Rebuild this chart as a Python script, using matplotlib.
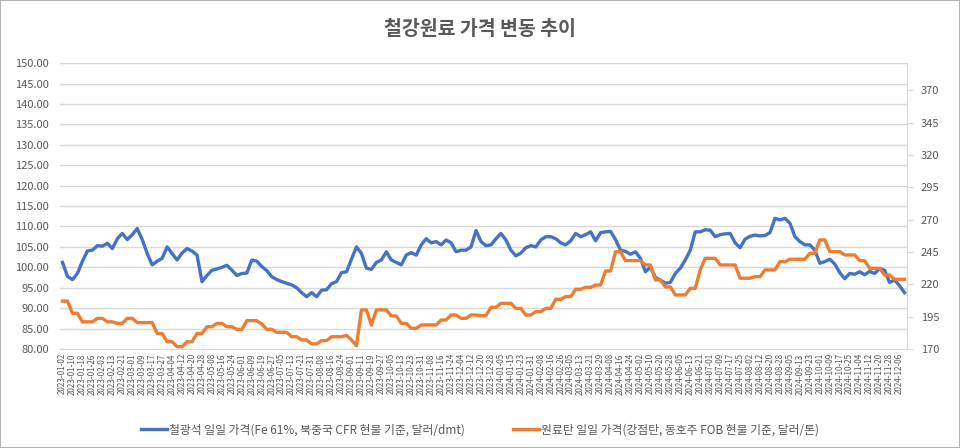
import matplotlib
matplotlib.use("Agg")
import matplotlib.pyplot as plt
import pandas as pd

plt.rcParams['font.family'] = ['Noto Sans CJK KR', 'DejaVu Sans']

title = "철강원료 가격 변동 추이"
iron_label = "철광석 일일 가격(Fe 61%, 북중국 CFR 현물 기준, 달러/dmt)"
coal_label = "원료탄 일일 가격(강점탄, 동호주 FOB 현물 기준, 달러/톤)"

# iron ore, $/dmt (left axis)
iron = [101.2, 97.8, 97.0, 98.5, 101.5, 104.0, 104.2, 105.3, 105.2, 105.9,
        104.6, 107.0, 108.3, 106.8, 108.0, 109.5, 106.8, 103.4, 100.6, 101.5,
        102.2, 105.0, 103.4, 101.8, 103.5, 104.6, 104.0, 103.0, 96.5, 98.0,
        99.3, 99.6, 100.0, 100.5, 99.3, 98.0, 98.5, 98.6, 101.8, 101.5,
        100.2, 99.2, 97.7, 97.0, 96.5, 96.1, 95.7, 95.0, 93.8, 92.8,
        93.8, 92.8, 94.4, 94.5, 96.0, 96.5, 98.7, 98.9, 102.0, 105.0,
        103.4, 99.8, 99.5, 101.2, 101.8, 103.8, 101.8, 101.2, 100.6, 103.0,
        103.6, 103.0, 105.5, 107.0, 106.0, 106.3, 105.5, 106.7, 106.0, 103.8,
        104.2, 104.2, 105.0, 109.0, 106.3, 105.3, 105.5, 107.0, 108.3, 106.7,
        104.2, 102.8, 103.5, 104.8, 105.3, 105.0, 106.7, 107.5, 107.5, 107.0,
        106.0, 105.5, 106.5, 108.3, 107.5, 108.0, 108.7, 106.5, 108.5, 108.7,
        108.8, 106.8, 104.2, 103.9, 103.2, 103.8, 102.2, 98.9, 100.1, 97.5,
        96.9, 96.1, 96.3, 98.5, 99.8, 101.8, 104.2, 108.7, 108.7, 109.2,
        109.1, 107.5, 108.0, 108.2, 108.3, 106.0, 104.8, 106.9, 107.6, 107.9,
        107.7, 107.8, 108.5, 112.0, 111.6, 112.0, 110.8, 107.5, 106.3, 105.5,
        105.5, 104.2, 101.0, 101.4, 102.0, 100.8, 98.7, 97.2, 98.5, 98.3,
        98.9, 98.2, 99.0, 98.5, 99.7, 99.3, 96.3, 96.9, 95.5, 93.8]

# coking coal, $/t (right axis)
coal = [207, 207, 197.6, 197.6, 191, 191, 191, 193.7, 193.7, 191,
        191, 189.8, 189.8, 193.7, 193.7, 190.4, 190.4, 190.4, 190.4, 182,
        182, 175.6, 175.6, 171.8, 171.8, 175.6, 175.6, 182, 182, 187.2,
        187.2, 189.8, 189.8, 187.2, 187.2, 185.2, 185.2, 191.9, 191.9, 191.9,
        189.3, 185.2, 185.2, 182.9, 182.9, 182.9, 179.5, 179.5, 177, 177,
        173.9, 173.9, 176.5, 176.5, 179.5, 179.5, 179.5, 180.5, 177, 172.5,
        200.2, 200.2, 188.5, 200.2, 200.2, 200.2, 195.5, 195.5, 189.8, 189.8,
        186, 186, 188.6, 188.6, 188.6, 188.6, 192.4, 192.4, 196.3, 196.3,
        193.7, 193.7, 196.3, 196.3, 195.8, 195.8, 202.2, 202.2, 205.3, 205.3,
        205.3, 201.4, 201.4, 196.3, 196.3, 198.9, 198.9, 201.4, 201.4, 208.4,
        208.4, 210.5, 210.5, 216.2, 216.2, 217.7, 217.7, 219.5, 219.5, 230.3,
        230.3, 245.2, 245.2, 238.3, 238.3, 238.3, 238.3, 235, 235, 223.4,
        223.4, 218, 218, 211.8, 211.8, 211.8, 216.9, 216.9, 231.1, 240.1,
        240.1, 240.1, 235, 235, 235, 235, 224.7, 224.7, 224.7, 225.9,
        225.9, 231.1, 231.1, 231.1, 237.5, 237.5, 239.4, 239.4, 239.4, 239.4,
        244, 244, 254.3, 254.3, 245.3, 245.3, 245.3, 242.7, 242.7, 242.7,
        238.3, 238.3, 232.4, 232.4, 232.4, 227.2, 227.2, 223.9, 223.9, 223.9]

dates = pd.bdate_range("2023-01-02", periods=len(iron), freq="3B")
date_labels = [d.strftime("%Y-%m-%d") for d in dates]

left_ticks = [80 + 5 * i for i in range(15)]
right_ticks = [170 + 25 * i for i in range(9)]

blue = "#4472C4"
orange = "#ED7D31"
txt = "#595959"
grid = "#D9D9D9"

fig = plt.figure(figsize=(9.6, 4.48), dpi=100)
fig.patches.append(plt.Rectangle((0.0005, 0.001), 0.999, 0.998, transform=fig.transFigure,
                                 fill=False, edgecolor="#A6A6A6", lw=1.2))
ax = fig.add_axes([0.0625, 0.221, 0.8823, 0.638])
ax2 = ax.twinx()

x = list(range(len(iron)))
l1, = ax.plot(x, iron, color=blue, lw=2.4, solid_joinstyle="round")
l2, = ax2.plot(x, coal, color=orange, lw=2.4, solid_joinstyle="round")

ax.set_xlim(-0.5, len(iron) - 0.5)
ax.set_ylim(80, 150)
ax.set_yticks(left_ticks)
ax.set_yticklabels([f"{v:.2f}" for v in left_ticks])
ax.yaxis.grid(True, color=grid, lw=1)
ax.set_axisbelow(True)
ax.set_xticks(x[::2])
ax.set_xticklabels(date_labels[::2], rotation=90, fontsize=5.8, color=txt)
ax.tick_params(axis="x", length=0, pad=3)
ax.tick_params(axis="y", length=0, labelsize=8, colors=txt, pad=8)

ax2.set_ylim(170, 391)
ax2.set_yticks(right_ticks)
ax2.tick_params(axis="y", length=4, color=grid, labelsize=8, labelcolor=txt, pad=6)

for a in (ax, ax2):
    for s in ("top", "left", "bottom"):
        a.spines[s].set_visible(False)
ax.spines["right"].set_visible(False)
ax2.spines["right"].set_color(grid)
ax2.spines["bottom"].set_visible(True)
ax2.spines["bottom"].set_color(grid)
ax2.spines["top"].set_visible(True)
ax2.spines["top"].set_color(grid)

fig.text(0.5, 0.935, title, ha="center", va="center", fontsize=14,
         fontweight="bold", color=txt)
fig.legend([l1, l2], [iron_label, coal_label], loc="center", bbox_to_anchor=(0.5, 0.04),
           ncol=2, frameon=False, fontsize=8.5, labelcolor=txt, handlelength=2.2,
           handletextpad=0.2, columnspacing=4)

fig.savefig("out.png", dpi=100)
